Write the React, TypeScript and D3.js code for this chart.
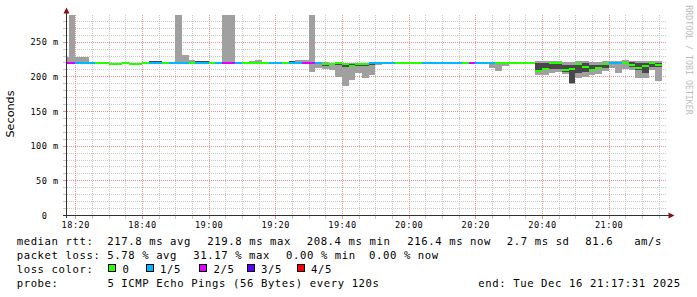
import React from 'react';
import * as d3 from 'd3';

const W = 697;
const H = 297;

// time axis (minutes since midnight); graph ends 21:17:31, spans 3 h
const endMin = 21 * 60 + 17 + 31 / 60;
const startMin = endMin - 180;
const firstStepMin = 18 * 60 + 16; // start of first 120 s step
const stepMin = 2;

// median rtt per step (ms)
const median = [
  219.2, 219.2, 219.2, 219.2, 219.2, 219.2, 219.2, 217.3, 217.3, 219.2,
  217.3, 217.3, 219.2, 219.2, 219.2, 219.2, 219.2, 219.2, 219.2, 219.2,
  219.2, 219.2, 219.2, 219.2, 219.2, 219.2, 219.2, 219.2, 219.2, 219.2,
  219.2, 219.2, 219.2, 219.2, 219.2, 219.2, 219.2, 219.2, 219.2, 217.4,
  217.4, 219.0, 218.0, 215.2, 217.6, 217.6, 219.2, 219.2, 219.2, 219.2,
  219.2, 219.2, 219.2, 219.2, 219.2, 219.2, 219.2, 219.2, 219.2, 219.2,
  219.2, 219.2, 219.2, 219.2, 219.2, 219.2, 219.2, 219.2, 219.2, 219.2,
  219.2, 208.4, 210.3, 218.8, 218.8, 209.3, 211.3, 217.6, 214.0, 209.3,
  212.7, 217.6, 218.8, 218.8, 219.8, 217.0, 212.5, 215.5, 219.8, 216.4,
];

// lost pings (of 5) per step
const lossCount = [
  2, 2, 1, 1, 1, 0, 0, 0, 0, 0,
  0, 0, 0, 1, 1, 0, 1, 1, 1, 0,
  1, 1, 0, 1, 2, 2, 1, 0, 0, 0,
  0, 1, 1, 0, 1, 1, 2, 2, 1, 0,
  0, 0, 0, 0, 0, 0, 1, 1, 1, 1,
  0, 0, 0, 0, 1, 1, 1, 1, 1, 1,
  0, 2, 1, 1, 1, 0, 0, 0, 0, 0,
  0, 0, 0, 0, 0, 0, 0, 0, 0, 0,
  0, 0, 1, 1, 0, 0, 0, 0, 0, 0,
];

// smoke: sorted ping rtts (ms) — lowest, 2nd, 4th, highest
const ping1 = [
  218.8, 218.8, 218.8, 218.8, 218.8, 218.8, 218.8, 216.9, 216.9, 218.8,
  216.9, 216.9, 218.8, 218.8, 218.8, 218.8, 218.8, 218.8, 218.8, 218.8,
  218.8, 218.8, 218.8, 218.8, 218.8, 218.8, 218.8, 218.8, 218.8, 218.8,
  218.8, 218.8, 218.8, 218.8, 218.8, 218.8, 218.8, 206.7, 211.6, 210.0,
  209.5, 199.5, 186.5, 194.7, 204.3, 198.0, 202.5, 216.0, 218.8, 218.8,
  218.8, 218.8, 218.8, 218.8, 218.8, 218.8, 218.8, 218.8, 218.8, 218.8,
  218.8, 218.8, 218.8, 218.8, 211.5, 208.1, 215.0, 218.8, 218.8, 218.8,
  218.8, 201.9, 201.9, 204.3, 206.7, 203.0, 189.5, 197.1, 199.5, 201.9,
  202.9, 207.0, 211.5, 204.3, 210.0, 208.5, 197.1, 197.1, 209.1, 193.8,
];
const ping2 = [
  219.0, 219.0, 219.0, 219.0, 219.0, 219.0, 219.0, 217.1, 217.1, 219.0,
  217.1, 217.1, 219.0, 219.0, 219.0, 219.0, 219.0, 219.0, 219.0, 219.0,
  219.0, 219.0, 219.0, 219.0, 219.0, 219.0, 219.0, 219.0, 219.0, 219.0,
  219.0, 219.0, 219.0, 219.0, 219.0, 219.0, 219.0, 218.8, 218.8, 215.0,
  216.4, 216.0, 213.5, 213.0, 215.0, 215.5, 216.4, 217.2, 219.0, 219.0,
  219.0, 219.0, 219.0, 219.0, 219.0, 219.0, 219.0, 219.0, 219.0, 219.0,
  219.0, 219.0, 219.0, 219.0, 218.8, 218.8, 218.8, 219.0, 219.0, 219.0,
  219.0, 209.1, 210.0, 210.5, 210.5, 206.7, 190.0, 204.3, 206.7, 208.5,
  210.0, 211.5, 218.0, 218.0, 218.5, 214.0, 209.1, 204.3, 214.0, 214.0,
];
const ping4 = [
  219.6, 219.6, 219.6, 219.6, 219.4, 219.4, 219.4, 217.5, 217.5, 219.4,
  217.5, 217.5, 219.4, 222.5, 221.5, 219.4, 219.4, 219.6, 219.6, 219.6,
  221.5, 221.5, 219.4, 219.4, 219.6, 219.6, 221.0, 219.4, 219.6, 219.6,
  219.4, 219.4, 219.4, 219.4, 221.5, 219.6, 219.6, 219.6, 219.6, 219.6,
  219.0, 219.6, 217.5, 218.5, 219.0, 219.0, 219.6, 219.6, 219.4, 219.4,
  219.4, 219.4, 219.4, 219.4, 219.4, 219.4, 219.4, 219.4, 219.4, 219.4,
  219.4, 219.4, 219.4, 219.4, 219.4, 219.4, 219.4, 219.4, 219.4, 219.4,
  219.4, 218.8, 218.8, 219.3, 219.3, 216.4, 216.4, 218.8, 218.8, 216.4,
  216.4, 218.8, 219.3, 219.3, 220.3, 221.2, 219.8, 219.8, 221.2, 219.8,
];
const ping5 = [
  228.3, 400, 228.3, 228.3, 219.6, 219.6, 219.6, 217.7, 217.7, 219.6,
  217.7, 217.7, 219.6, 222.5, 221.5, 219.6, 219.6, 400, 230.8, 223.6,
  221.5, 221.5, 219.6, 219.6, 400, 400, 221.0, 219.6, 221.6, 223.0,
  219.6, 219.6, 219.6, 219.6, 221.5, 223.0, 223.0, 400, 219.8, 220.0,
  219.6, 220.0, 219.6, 219.6, 219.6, 219.6, 219.8, 219.8, 219.6, 219.6,
  219.6, 219.6, 219.6, 219.6, 219.6, 219.6, 219.6, 219.6, 219.6, 219.6,
  219.6, 219.6, 219.6, 219.6, 219.6, 219.6, 219.6, 219.6, 219.6, 219.6,
  219.6, 221.5, 221.5, 221.5, 221.5, 221.0, 221.0, 221.5, 221.5, 221.0,
  221.0, 221.5, 222.0, 222.0, 223.6, 222.0, 222.0, 222.0, 222.0, 222.0,
];

const yTickValues = [0, 50, 100, 150, 200, 250];
const lossColors = ['#26ff00', '#00b8ff', '#dd00ff', '#5e00ff', '#ff0000'];
const lossLabels = ['0', '1/5', '2/5', '3/5', '4/5'];

const legendLine1 = ['median rtt:', '217.8 ms avg', '219.8 ms max', '208.4 ms min', '216.4 ms now', '2.7 ms sd', '81.6   am/s'];
const legendLine1X = [16.7, 107.3, 207.3, 306.7, 407.3, 506.8, 585.3];
const legendLine2 = ['packet loss:', '5.78 % avg', '31.17 % max', '0.00 % min', '0.00 % now'];
const legendLine2X = [16.7, 107.3, 193.3, 286, 369];
const lossBoxX = [108.5, 146, 199.5, 247, 297];
const probeText = 'probe:       5 ICMP Echo Pings (56 Bytes) every 120s';
const endText = 'end: Tue Dec 16 21:17:31 2025';

const PL = 67, PR = 667, PT = 15, PB = 215;
const yMax = 288.5;

const x = d3.scaleLinear().domain([startMin, endMin]).range([PL, PR]);
const y = d3.scaleLinear().domain([0, yMax]).range([PB, PT]);

const fmtTime = (m: number) => {
  const h = Math.floor(m / 60);
  const mm = Math.round(m - h * 60);
  return `${d3.format('02d')(h)}:${d3.format('02d')(mm)}`;
};

const mono = 'DejaVu Sans Mono';

export default function App() {
  const minorX = d3.range(Math.ceil(startMin / 5) * 5, endMin, 5);
  const minorY = d3.range(10, yMax, 10);
  const isMajorX = (m: number) => Math.round(m) % 20 === 0;
  const isMajorY = (v: number) => v % 50 === 0;
  const crisp = (v: number) => Math.round(v) - 0.5;

  const steps = median.map((m, k) => {
    const t0 = firstStepMin + k * stepMin;
    return { k, t0, t1: t0 + stepMin, m, loss: lossCount[k], p1: ping1[k], p2: ping2[k], p4: ping4[k], p5: ping5[k] };
  });

  const axisFont = { fontFamily: mono, fontSize: 8.6, letterSpacing: 0.5 } as React.CSSProperties;
  const legFont = { fontFamily: mono, fontSize: 10.6, letterSpacing: 0.6, whiteSpace: 'pre' } as React.CSSProperties;

  return (
    <div style={{ position: 'absolute', left: 0, top: 0 }}>
      <svg width={W} height={H} viewBox={`0 0 ${W} ${H}`} style={{ display: 'block', background: '#fff' }}>
        <defs>
          <clipPath id="plotClip">
            <rect x={PL} y={PT} width={PR - PL} height={PB - PT} />
          </clipPath>
        </defs>
        <rect x={0} y={0} width={W} height={H} fill="#fff" />

        {/* minor grid */}
        <g strokeWidth={1} strokeDasharray="1 1" shapeRendering="crispEdges">
          {minorX.filter((m) => !isMajorX(m)).map((m) => (
            <line key={'mx' + m} x1={crisp(x(m)) + 1} x2={crisp(x(m)) + 1} y1={PT} y2={PB} stroke="#c8c8c8" />
          ))}
          {minorY.filter((v) => !isMajorY(v)).map((v) => (
            <line key={'my' + v} x1={PL} x2={PR} y1={crisp(y(v)) + 1} y2={crisp(y(v)) + 1} stroke="#c8c8c8" />
          ))}
          {minorX.filter(isMajorX).map((m) => (
            <line key={'Mx' + m} x1={crisp(x(m)) + 1} x2={crisp(x(m)) + 1} y1={PT} y2={PB} stroke="#ee9090" />
          ))}
          {minorY.filter(isMajorY).map((v) => (
            <line key={'My' + v} x1={PL} x2={PR} y1={crisp(y(v)) + 1} y2={crisp(y(v)) + 1} stroke="#ee9090" />
          ))}
        </g>

        {/* smoke and median */}
        <g clipPath="url(#plotClip)" shapeRendering="crispEdges">
          {steps.map((s) => (
            <rect key={'l' + s.k} x={x(s.t0)} width={x(s.t1) - x(s.t0)} y={y(s.p5)} height={y(s.p1) - y(s.p5)} fill="#a0a0a0" />
          ))}
          {steps.map((s) => (
            <rect key={'d' + s.k} x={x(s.t0)} width={x(s.t1) - x(s.t0)} y={y(s.p4)} height={Math.max(0, y(s.p2) - y(s.p4))} fill="#484848" />
          ))}
          {steps.map((s) => (
            <rect key={'m' + s.k} x={x(s.t0)} width={x(s.t1) - x(s.t0)} y={y(s.m) - 1} height={2} fill={lossColors[s.loss]} />
          ))}
        </g>

        {/* axis ticks */}
        <g shapeRendering="crispEdges">
          {minorY.map((v) => (
            <line key={'ty' + v} x1={63} x2={66} y1={crisp(y(v)) + 1} y2={crisp(y(v)) + 1} stroke={isMajorY(v) ? '#ee9090' : '#c8c8c8'} />
          ))}
          {minorX.map((m) => (
            <line key={'tx' + m} x1={crisp(x(m)) + 1} x2={crisp(x(m)) + 1} y1={216} y2={219} stroke={isMajorX(m) ? '#ee9090' : '#c8c8c8'} />
          ))}
          <line x1={66.5} x2={66.5} y1={218} y2={12} stroke="#303030" />
          <line x1={63} x2={669} y1={215.5} y2={215.5} stroke="#303030" />
        </g>
        <path d="M63.5,13.5 L69.5,13.5 L66.5,7.5 Z" fill="#8b1010" />
        <path d="M668.5,212.5 L668.5,218.5 L674.5,215.5 Z" fill="#8b1010" />

        {/* axis labels */}
        {yTickValues.map((v) => (
          <text key={'yl' + v} x={v === 0 ? 47.4 : 58.8} y={y(v) + 3.6} textAnchor="end" style={axisFont} fill="#000">
            {v === 0 ? '0' : `${v} m`}
          </text>
        ))}
        {minorX.filter(isMajorX).map((m) => (
          <text key={'xl' + m} x={x(m) + 0.5} y={227.5} textAnchor="middle" style={axisFont} fill="#000">
            {fmtTime(m)}
          </text>
        ))}

        <text transform="translate(14,114) rotate(-90)" textAnchor="middle" style={{ fontFamily: 'DejaVu Sans', fontSize: 11.2 }} fill="#000">
          Seconds
        </text>
        <text transform="translate(685.5,60) rotate(90)" textAnchor="middle" style={{ fontFamily: mono, fontSize: 8.2, letterSpacing: 0.05 }} fill="#bcbcbc">
          RRDTOOL / TOBI OETIKER
        </text>

        {/* legend */}
        {legendLine1.map((t, i) => (
          <text key={'l1' + i} x={legendLine1X[i]} y={244.5} style={legFont} fill="#000">{t}</text>
        ))}
        {legendLine2.map((t, i) => (
          <text key={'l2' + i} x={legendLine2X[i]} y={258.5} style={legFont} fill="#000">{t}</text>
        ))}
        <text x={16.7} y={272.5} style={legFont} fill="#000">loss color:</text>
        {lossColors.map((c, i) => (
          <g key={'lc' + i}>
            <rect x={lossBoxX[i]} y={264.5} width={7} height={7} fill={c} stroke="#000" strokeWidth={1} shapeRendering="crispEdges" />
            <text x={lossBoxX[i] + 14} y={272.5} style={legFont} fill="#000">{lossLabels[i]}</text>
          </g>
        ))}
        <text x={16.7} y={286.5} style={legFont} fill="#000">{probeText}</text>
        <text x={478.3} y={286.5} style={legFont} fill="#000">{endText}</text>
      </svg>
    </div>
  );
}
